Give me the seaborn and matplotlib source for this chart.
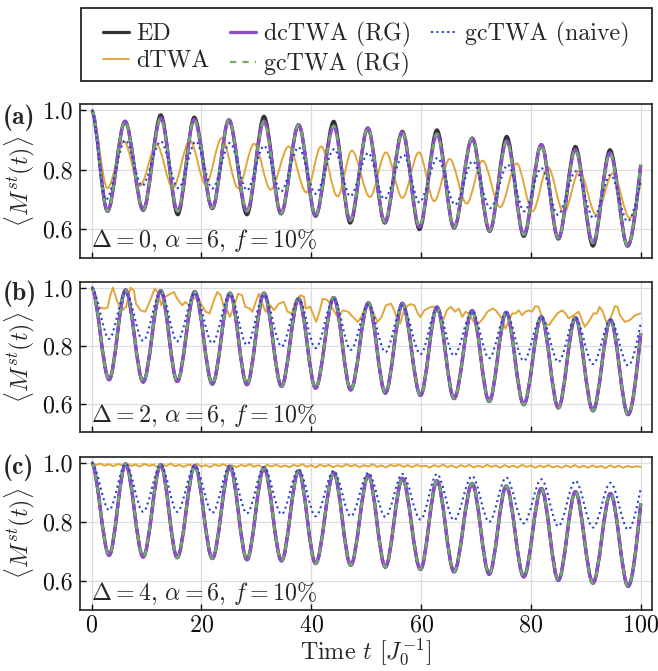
import numpy as np
import matplotlib
matplotlib.use('Agg')
import matplotlib.pyplot as plt
from matplotlib.path import Path
from matplotlib.patches import PathPatch, Rectangle
from matplotlib.lines import Line2D
import seaborn as sns

# ---------------------------------------------------------------
# values (extrema of each oscillation)
# panel (a): Delta = 0
a_t = [0, 2.9, 6.1, 9.4, 12.6, 15.7, 18.7, 22.0, 25.0, 28.3, 31.4, 34.5, 37.7, 40.8, 44.1, 47.1,
       50.3, 53.4, 56.6, 59.7, 62.9, 66.0, 69.3, 72.5, 75.6, 78.7, 81.9, 85.0, 88.1, 91.3, 94.4, 97.6, 100]
a_ed = [1.0, 0.659, 0.963, 0.662, 0.985, 0.647, 0.977, 0.668, 0.968, 0.647, 0.980, 0.650, 0.951, 0.642,
        0.963, 0.619, 0.940, 0.619, 0.929, 0.597, 0.934, 0.602, 0.906, 0.591, 0.912, 0.574, 0.884, 0.565,
        0.878, 0.541, 0.867, 0.541, 0.816]
a_rg = [1.0, 0.659, 0.963, 0.664, 0.974, 0.659, 0.969, 0.670, 0.968, 0.659, 0.963, 0.652, 0.951, 0.645,
        0.947, 0.628, 0.940, 0.622, 0.926, 0.606, 0.920, 0.604, 0.906, 0.593, 0.897, 0.580, 0.884, 0.568,
        0.867, 0.552, 0.856, 0.543, 0.816]
a_naive_t = [0, 2.6, 6.2, 9.2, 12.6, 15.8, 19.0, 22.0, 25.2, 28.3, 31.4, 34.5, 37.7, 40.8, 44.2, 47.1,
             50.4, 53.3, 56.8, 59.7, 63.0, 66.2, 69.4, 72.6, 75.8, 78.8, 81.9, 84.9, 88.2, 91.4, 94.5, 97.6, 100]
a_naive = [1.0, 0.698, 0.899, 0.745, 0.895, 0.737, 0.895, 0.736, 0.890, 0.730, 0.880, 0.726, 0.875, 0.718,
           0.869, 0.710, 0.856, 0.700, 0.850, 0.689, 0.839, 0.681, 0.828, 0.670, 0.816, 0.659, 0.805, 0.647,
           0.794, 0.636, 0.782, 0.625, 0.762]
a_dtwa_t = [0, 2.9, 5.9, 8.8, 11.85, 14.8, 17.9, 20.8, 23.7, 26.7, 29.6, 32.6, 35.9, 39.1, 41.8, 44.8,
            47.4, 50.7, 53.6, 56.6, 59.6, 62.4, 65.2, 68.3, 71.2, 74.4, 77.4, 80.3, 83.1, 86.0, 88.8, 91.9,
            94.9, 98.0, 100]
a_dtwa = [1.0, 0.737, 0.895, 0.745, 0.884, 0.737, 0.899, 0.749, 0.906, 0.737, 0.887, 0.732, 0.878, 0.723,
          0.878, 0.709, 0.864, 0.707, 0.858, 0.704, 0.858, 0.693, 0.836, 0.685, 0.830, 0.673, 0.821, 0.659,
          0.808, 0.653, 0.795, 0.647, 0.787, 0.636, 0.754]

# panel (b): Delta = 2
b_t = [0, 3.2, 6.2, 9.4, 12.6, 15.6, 18.8, 22.0, 25.2, 28.3, 31.4, 34.6, 37.7, 40.8, 44.1, 47.2,
       50.4, 53.5, 56.6, 59.9, 62.9, 66.0, 69.3, 72.4, 75.5, 78.7, 81.9, 85.0, 88.1, 91.3, 94.5, 97.7, 100]
b_ed = [1.0, 0.683, 0.992, 0.675, 0.990, 0.677, 0.986, 0.668, 0.981, 0.666, 0.981, 0.660, 0.963, 0.654,
        0.966, 0.648, 0.948, 0.637, 0.946, 0.629, 0.933, 0.618, 0.921, 0.608, 0.915, 0.597, 0.900, 0.586,
        0.897, 0.576, 0.889, 0.563, 0.843]
b_rg = b_ed
b_naive = [1.0, 0.824, 0.986, 0.817, 0.986, 0.815, 0.981, 0.809, 0.978, 0.803, 0.975, 0.797, 0.961, 0.792,
           0.961, 0.786, 0.943, 0.778, 0.938, 0.771, 0.929, 0.766, 0.918, 0.757, 0.912, 0.748, 0.900, 0.744,
           0.897, 0.737, 0.889, 0.732, 0.878]
b_dtwa_t = [0, 1.0, 2.3, 2.9, 3.5, 3.9, 4.5, 5.0, 5.6, 6.3, 7.1, 7.7, 8.1, 8.9, 9.8, 10.7, 11.5, 12.2,
            12.7, 13.4, 14.4, 15.0, 15.6, 16.5, 17.1, 17.9, 18.3, 19.3, 19.9, 20.8, 21.5, 22.3, 22.9,
            23.5, 24.1, 24.7, 25.2, 25.9, 26.7, 27.4, 28.0, 28.8, 29.3, 29.9, 30.5, 31.1, 31.7, 32.6,
            33.2, 34.1, 35.0, 35.7, 36.5, 37.2, 38.1, 38.7, 39.0, 39.8, 40.9, 41.5, 42.1, 43.0, 43.9,
            44.8, 45.8, 46.7, 47.6, 48.5, 49.1, 50.0, 50.6, 51.2, 52.1, 52.8, 53.6, 54.5, 55.1, 55.7,
            56.2, 56.8, 57.6, 58.2, 58.8, 59.4, 59.9, 60.6, 61.2, 61.8, 62.5, 63.1, 63.9, 64.7, 65.4,
            66.2, 66.9, 67.5, 68.1, 68.7, 69.6, 70.5, 71.3, 72.1, 73.0, 73.6, 74.5, 75.4, 76.0, 76.6,
            77.2, 77.8, 78.4, 79.0, 79.6, 80.2, 80.8, 81.4, 82.0, 82.6, 83.3, 83.9, 84.8, 85.7, 86.3,
            86.9, 87.8, 88.7, 89.3, 89.8, 90.5, 91.4, 92.0, 92.5, 93.1, 93.8, 94.6, 95.3, 95.8, 96.2,
            97.1, 98.0, 99.0, 99.9]
b_dtwa = [1.0, 0.934, 0.928, 0.931, 0.979, 1.0, 0.962, 0.939, 0.922, 0.934, 1.0, 0.990, 0.945, 0.922,
          0.917, 0.957, 0.997, 0.979, 0.939, 0.968, 0.979, 0.985, 0.962, 0.939, 0.951, 0.936, 0.957,
          0.970, 0.945, 0.917, 0.911, 0.957, 0.985, 0.974, 0.934, 0.922, 0.899, 0.934, 0.979, 0.974,
          0.934, 0.928, 0.917, 0.951, 0.979, 0.945, 0.917, 0.939, 0.922, 0.945, 0.951, 0.917, 0.911,
          0.957, 0.974, 0.968, 0.928, 0.934, 0.882, 0.917, 0.962, 0.957, 0.928, 0.899, 0.922, 0.917,
          0.899, 0.882, 0.899, 0.939, 0.951, 0.917, 0.882, 0.899, 0.939, 0.945, 0.922, 0.888, 0.877,
          0.917, 0.939, 0.943, 0.939, 0.911, 0.899, 0.922, 0.928, 0.934, 0.934, 0.917, 0.882, 0.922,
          0.934, 0.917, 0.928, 0.899, 0.917, 0.911, 0.882, 0.877, 0.894, 0.917, 0.928, 0.922, 0.899,
          0.859, 0.888, 0.911, 0.911, 0.922, 0.905, 0.917, 0.922, 0.917, 0.936, 0.934, 0.899, 0.877,
          0.871, 0.888, 0.911, 0.922, 0.911, 0.894, 0.905, 0.917, 0.888, 0.865, 0.882, 0.911, 0.911,
          0.934, 0.917, 0.877, 0.899, 0.936, 0.934, 0.905, 0.882, 0.888, 0.905, 0.911]

# panel (c): Delta = 4
c_t = b_t
c_ed = [1.0, 0.687, 0.996, 0.681, 0.993, 0.679, 0.990, 0.676, 0.988, 0.672, 0.983, 0.668, 0.973, 0.659,
        0.966, 0.653, 0.958, 0.647, 0.947, 0.639, 0.939, 0.631, 0.930, 0.623, 0.921, 0.614, 0.913, 0.602,
        0.902, 0.593, 0.896, 0.582, 0.862]
c_rg = c_ed
c_naive = [1.0, 0.840, 0.996, 0.834, 0.993, 0.834, 0.990, 0.831, 0.990, 0.829, 0.985, 0.826, 0.978, 0.819,
           0.973, 0.819, 0.966, 0.817, 0.962, 0.808, 0.962, 0.806, 0.955, 0.800, 0.950, 0.795, 0.944, 0.785,
           0.939, 0.781, 0.932, 0.774, 0.913]
c_dtwa_t = np.linspace(0, 100, 126)
c_dtwa = [1.000, 0.992, 0.997, 0.990, 0.995, 0.988, 0.996, 0.991, 0.998, 0.989,
          0.994, 0.987, 0.996, 0.990, 0.993, 0.986, 0.995, 0.989, 0.997, 0.988,
          0.993, 0.986, 0.994, 0.990, 0.996, 0.987, 0.992, 0.985, 0.994, 0.989,
          0.995, 0.987, 0.991, 0.985, 0.993, 0.988, 0.995, 0.986, 0.992, 0.984,
          0.993, 0.987, 0.994, 0.986, 0.991, 0.985, 0.993, 0.988, 0.995, 0.986,
          0.992, 0.984, 0.994, 0.987, 0.993, 0.985, 0.991, 0.986, 0.995, 0.988,
          0.993, 0.985, 0.992, 0.987, 0.995, 0.986, 0.991, 0.984, 0.993, 0.988,
          0.994, 0.986, 0.992, 0.985, 0.993, 0.987, 0.990, 0.984, 0.992, 0.986,
          0.994, 0.985, 0.991, 0.983, 0.992, 0.986, 0.993, 0.984, 0.990, 0.985,
          0.993, 0.986, 0.991, 0.983, 0.992, 0.985, 0.990, 0.984, 0.993, 0.986,
          0.991, 0.983, 0.990, 0.985, 0.992, 0.984, 0.989, 0.983, 0.991, 0.985,
          0.992, 0.984, 0.990, 0.983, 0.991, 0.985, 0.989, 0.982, 0.991, 0.984,
          0.990, 0.983, 0.989, 0.985, 0.988, 0.986]

panel_tags = ['(a)', '(b)', '(c)']
panel_notes = [r'$\Delta=0,\,\alpha=6,\,f=10\%$', r'$\Delta=2,\,\alpha=6,\,f=10\%$',
               r'$\Delta=4,\,\alpha=6,\,f=10\%$']
labels = ['ED', 'dTWA', 'dcTWA (RG)', 'gcTWA (RG)', 'gcTWA (naive)']

# ---------------------------------------------------------------
FS = 17.3
sns.set_style('ticks')
plt.rcParams.update({
    'font.family': ['cmr10', 'DejaVu Serif'],
    'mathtext.fontset': 'cm',
    'axes.unicode_minus': False,
    'axes.formatter.use_mathtext': True,
    'xtick.direction': 'in',
    'ytick.direction': 'in',
    'font.size': FS,
})

styles = {
    'ED': dict(color='#333333', lw=2.3, ls='-', zorder=2.0),
    'dTWA': dict(color='#E2A539', lw=1.4, ls='-', zorder=2.1),
    'dcTWA (RG)': dict(color='#8B4FC8', lw=2.4, ls='-', zorder=2.2),
    'gcTWA (RG)': dict(color='#6AB35A', lw=1.6, ls=(0, (2.8, 2.8)), zorder=2.3),
    'gcTWA (naive)': dict(color='#2443CC', lw=1.5, ls=(0, (1, 1.6)), zorder=2.4),
}


def smooth(ax, t, v, name):
    # draw a smooth curve through the read extrema (flat tangent at each one)
    st = styles[name]
    verts = [(t[0], v[0])]
    codes = [Path.MOVETO]
    n = len(t)
    for i in range(n - 1):
        h = (t[i + 1] - t[i]) / 3
        c2 = v[i + 1]
        if i == n - 2:  # last point is mid-swing
            c2 = v[i + 1] - 0.5 * (v[i + 1] - v[i])
        verts += [(t[i] + h, v[i]), (t[i + 1] - h, c2), (t[i + 1], v[i + 1])]
        codes += [Path.CURVE4] * 3
    ax.add_patch(PathPatch(Path(verts, codes), fill=False, edgecolor=st['color'], lw=st['lw'],
                           linestyle=st['ls'], zorder=st['zorder'], capstyle='butt', joinstyle='round'))


def noisy(ax, t, v, name):
    st = styles[name]
    sns.lineplot(x=t, y=v, ax=ax, color=st['color'], linewidth=st['lw'], zorder=st['zorder'],
                 estimator=None, sort=False, legend=False)


fig = plt.figure(figsize=(6.58, 6.71), dpi=100)
boxes = [(80, 104.3, 257.7), (80, 281.7, 432.3), (80, 456.7, 610)]
axes = []
for left, top, bottom in boxes:
    ax = fig.add_axes([left / 658, 1 - bottom / 671, 572 / 658, (bottom - top) / 671])
    axes.append(ax)

data = [
    (a_t, a_ed, a_rg, a_naive_t, a_naive, a_dtwa_t, a_dtwa, 'smooth'),
    (b_t, b_ed, b_rg, b_t, b_naive, b_dtwa_t, b_dtwa, 'noisy'),
    (c_t, c_ed, c_rg, c_t, c_naive, c_dtwa_t, c_dtwa, 'noisy'),
]

for k, ax in enumerate(axes):
    t, ed, rg, nt, nv, dt, dv, kind = data[k]
    smooth(ax, t, ed, 'ED')
    if kind == 'smooth':
        smooth(ax, dt, dv, 'dTWA')
    else:
        noisy(ax, dt, dv, 'dTWA')
    smooth(ax, t, rg, 'dcTWA (RG)')
    smooth(ax, t, rg, 'gcTWA (RG)')
    smooth(ax, nt, nv, 'gcTWA (naive)')

    ax.set_xlim(-2.1, 102.05)
    ax.set_ylim(0.502, 1.0204)
    ax.set_xticks([0, 20, 40, 60, 80, 100])
    ax.set_yticks([0.6, 0.8, 1.0])
    ax.set_yticklabels(['0.6', '0.8', '1.0'])
    ax.grid(True, color='#dcdcdc', lw=0.9)
    ax.set_axisbelow(True)
    ax.tick_params(length=4.5, width=1.0, labelsize=FS, pad=5, colors='#111111')
    ax.tick_params(axis='x', pad=3)
    for sp in ax.spines.values():
        sp.set_linewidth(1.2)
        sp.set_color('#222222')
    ax.set_ylabel(r'$\langle M^{st}(t)\rangle$', fontsize=FS)
    ax.yaxis.set_label_coords(-0.076, 0.5)
    ax.text(0.019, 0.11, panel_notes[k], transform=ax.transAxes, fontsize=FS, va='center', ha='left')
    if k < 2:
        ax.set_xticklabels([])
    else:
        ax.set_xlabel(r'Time $t$ $[J_0^{-1}]$', fontsize=FS, labelpad=0)

tag_y = [118, 294, 468]
for k in range(3):
    fig.text(0.004, 1 - tag_y[k] / 671, panel_tags[k], family='cmb10', fontsize=18.5,
             va='center', ha='left')

# legend: entries packed inside, frame drawn around the full width
handles = []
for name in labels:
    st = styles[name]
    handles.append(Line2D([], [], color=st['color'], lw=st['lw'], ls=st['ls']))
leg = fig.legend(handles, labels, ncol=3, loc='center', mode='expand', borderaxespad=0,
                 bbox_to_anchor=(93 / 658, 1 - 85.5 / 671, 546 / 658, 72.5 / 671),
                 fontsize=FS, handlelength=1.1, handletextpad=0.3, labelspacing=0.2,
                 borderpad=0.4, columnspacing=0.9, frameon=False)
fig.add_artist(Rectangle((80.5 / 658, 1 - 80.5 / 671), 571 / 658, 72.5 / 671, transform=fig.transFigure,
                         fill=False, edgecolor='#111111', lw=1.2))

fig.savefig('out.png', dpi=100)
